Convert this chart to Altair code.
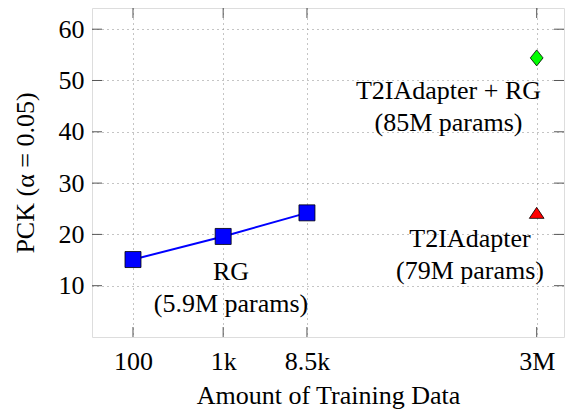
import altair as alt
import pandas as pd

# ---- data ----
rg_x = [100, 1000, 8500]
rg_y = [15.1, 19.6, 24.2]
t2i_x = [3000000]
t2i_y = [24.2]
t2irg_x = [3000000]
t2irg_y = [54.4]

x_tick_values = [100, 1000, 8500, 3000000]
x_tick_labels = ["100", "1k", "8.5k", "3M"]
y_tick_values = [10, 20, 30, 40, 50, 60]

ann_text = ["RG\n(5.9M params)", "T2IAdapter + RG\n(85M params)", "T2IAdapter\n(79M params)"]
ann_x = [1221, 315500, 546000]
ann_y = [11.1, 46.4, 17.5]

FONT = "Liberation Serif"
FS = 26
W, H = 472, 329

xscale = alt.Scale(type="log", domain=[35.1, 6.026e6], nice=False)
yscale = alt.Scale(domain=[0, 64.13], nice=False, zero=False)

label_expr = " : ".join(
    f"datum.value == {v} ? '{l}'" for v, l in zip(x_tick_values, x_tick_labels)
) + " : ''"

rg_df = pd.DataFrame({"x": rg_x, "y": rg_y})
t2i_df = pd.DataFrame({"x": t2i_x, "y": t2i_y})
t2irg_df = pd.DataFrame({"x": t2irg_x, "y": t2irg_y})
ann_df = pd.DataFrame({"x": ann_x, "y": ann_y, "t": ann_text})
yt_df = pd.DataFrame({"y": y_tick_values})
xt_df = pd.DataFrame({"x": x_tick_values})

X = alt.X("x:Q", scale=xscale, axis=alt.Axis(
    values=x_tick_values, labelExpr=label_expr, title="Amount of Training Data",
    grid=True, gridDash=[1, 4], gridColor="#8a8a8a", gridWidth=1,
    ticks=False, tickSize=0, domain=False, labelPadding=11, titlePadding=8,
    labelFont=FONT, labelFontSize=FS, titleFont=FONT, titleFontSize=FS,
    labelColor="black", titleColor="black", titleFontWeight="normal",
    labelFlush=False))
Y = alt.Y("y:Q", scale=yscale, axis=alt.Axis(
    values=y_tick_values, title="PCK (α = 0.05)",
    grid=True, gridDash=[1, 4], gridColor="#8a8a8a", gridWidth=1,
    ticks=False, tickSize=0, domain=False, labelPadding=8, titlePadding=20,
    labelFont=FONT, labelFontSize=FS, titleFont=FONT, titleFontSize=FS,
    labelColor="black", titleColor="black", titleFontWeight="normal",
    labelFlush=False))

line = alt.Chart(rg_df).mark_line(color="#0000ff", strokeWidth=2).encode(x=X, y=Y)
squares = alt.Chart(rg_df).mark_point(
    shape="square", filled=True, fill="#0000ff", stroke="black", strokeWidth=0.8,
    size=256, opacity=1).encode(x="x:Q", y="y:Q")
tri = alt.Chart(t2i_df).mark_point(
    shape="M0,-0.69L0.92,0.69L-0.92,0.69Z", filled=True, fill="#ff0000",
    stroke="black", strokeWidth=0.8, size=256, opacity=1).encode(x="x:Q", y="y:Q")
dia = alt.Chart(t2irg_df).mark_point(
    shape="M0,-1L0.8,0L0,1L-0.8,0Z", filled=True, fill="#00ff00",
    stroke="black", strokeWidth=0.8, size=256, opacity=1).encode(x="x:Q", y="y:Q")

ann = alt.Chart(ann_df).mark_text(
    font=FONT, fontSize=FS, align="center", baseline="alphabetic",
    lineBreak="\n", lineHeight=32, color="black").encode(x="x:Q", y="y:Q", text="t:N")

TICK = 10
tick_color = "#555555"
yt_left = alt.Chart(yt_df).mark_rule(color=tick_color, strokeWidth=1).encode(
    y="y:Q", x=alt.value(0), x2=alt.value(TICK))
yt_right = alt.Chart(yt_df).mark_rule(color=tick_color, strokeWidth=1).encode(
    y="y:Q", x=alt.value(W - TICK), x2=alt.value(W))
xt_bottom = alt.Chart(xt_df).mark_rule(color=tick_color, strokeWidth=1).encode(
    x="x:Q", y=alt.value(H - TICK), y2=alt.value(H))
xt_top = alt.Chart(xt_df).mark_rule(color=tick_color, strokeWidth=1).encode(
    x="x:Q", y=alt.value(0), y2=alt.value(TICK))

chart = alt.layer(
    line, yt_left, yt_right, xt_bottom, xt_top, ann, squares, tri, dia
).properties(
    width=W, height=H,
    autosize=alt.AutoSizeParams(type="none"),
    padding={"left": 84, "top": 0, "right": 1, "bottom": 76},
).configure_view(stroke="#555555", strokeWidth=1.3).configure(
    background="white", font=FONT)

chart.save("out.html", embed_options={"renderer": "svg", "actions": False})
